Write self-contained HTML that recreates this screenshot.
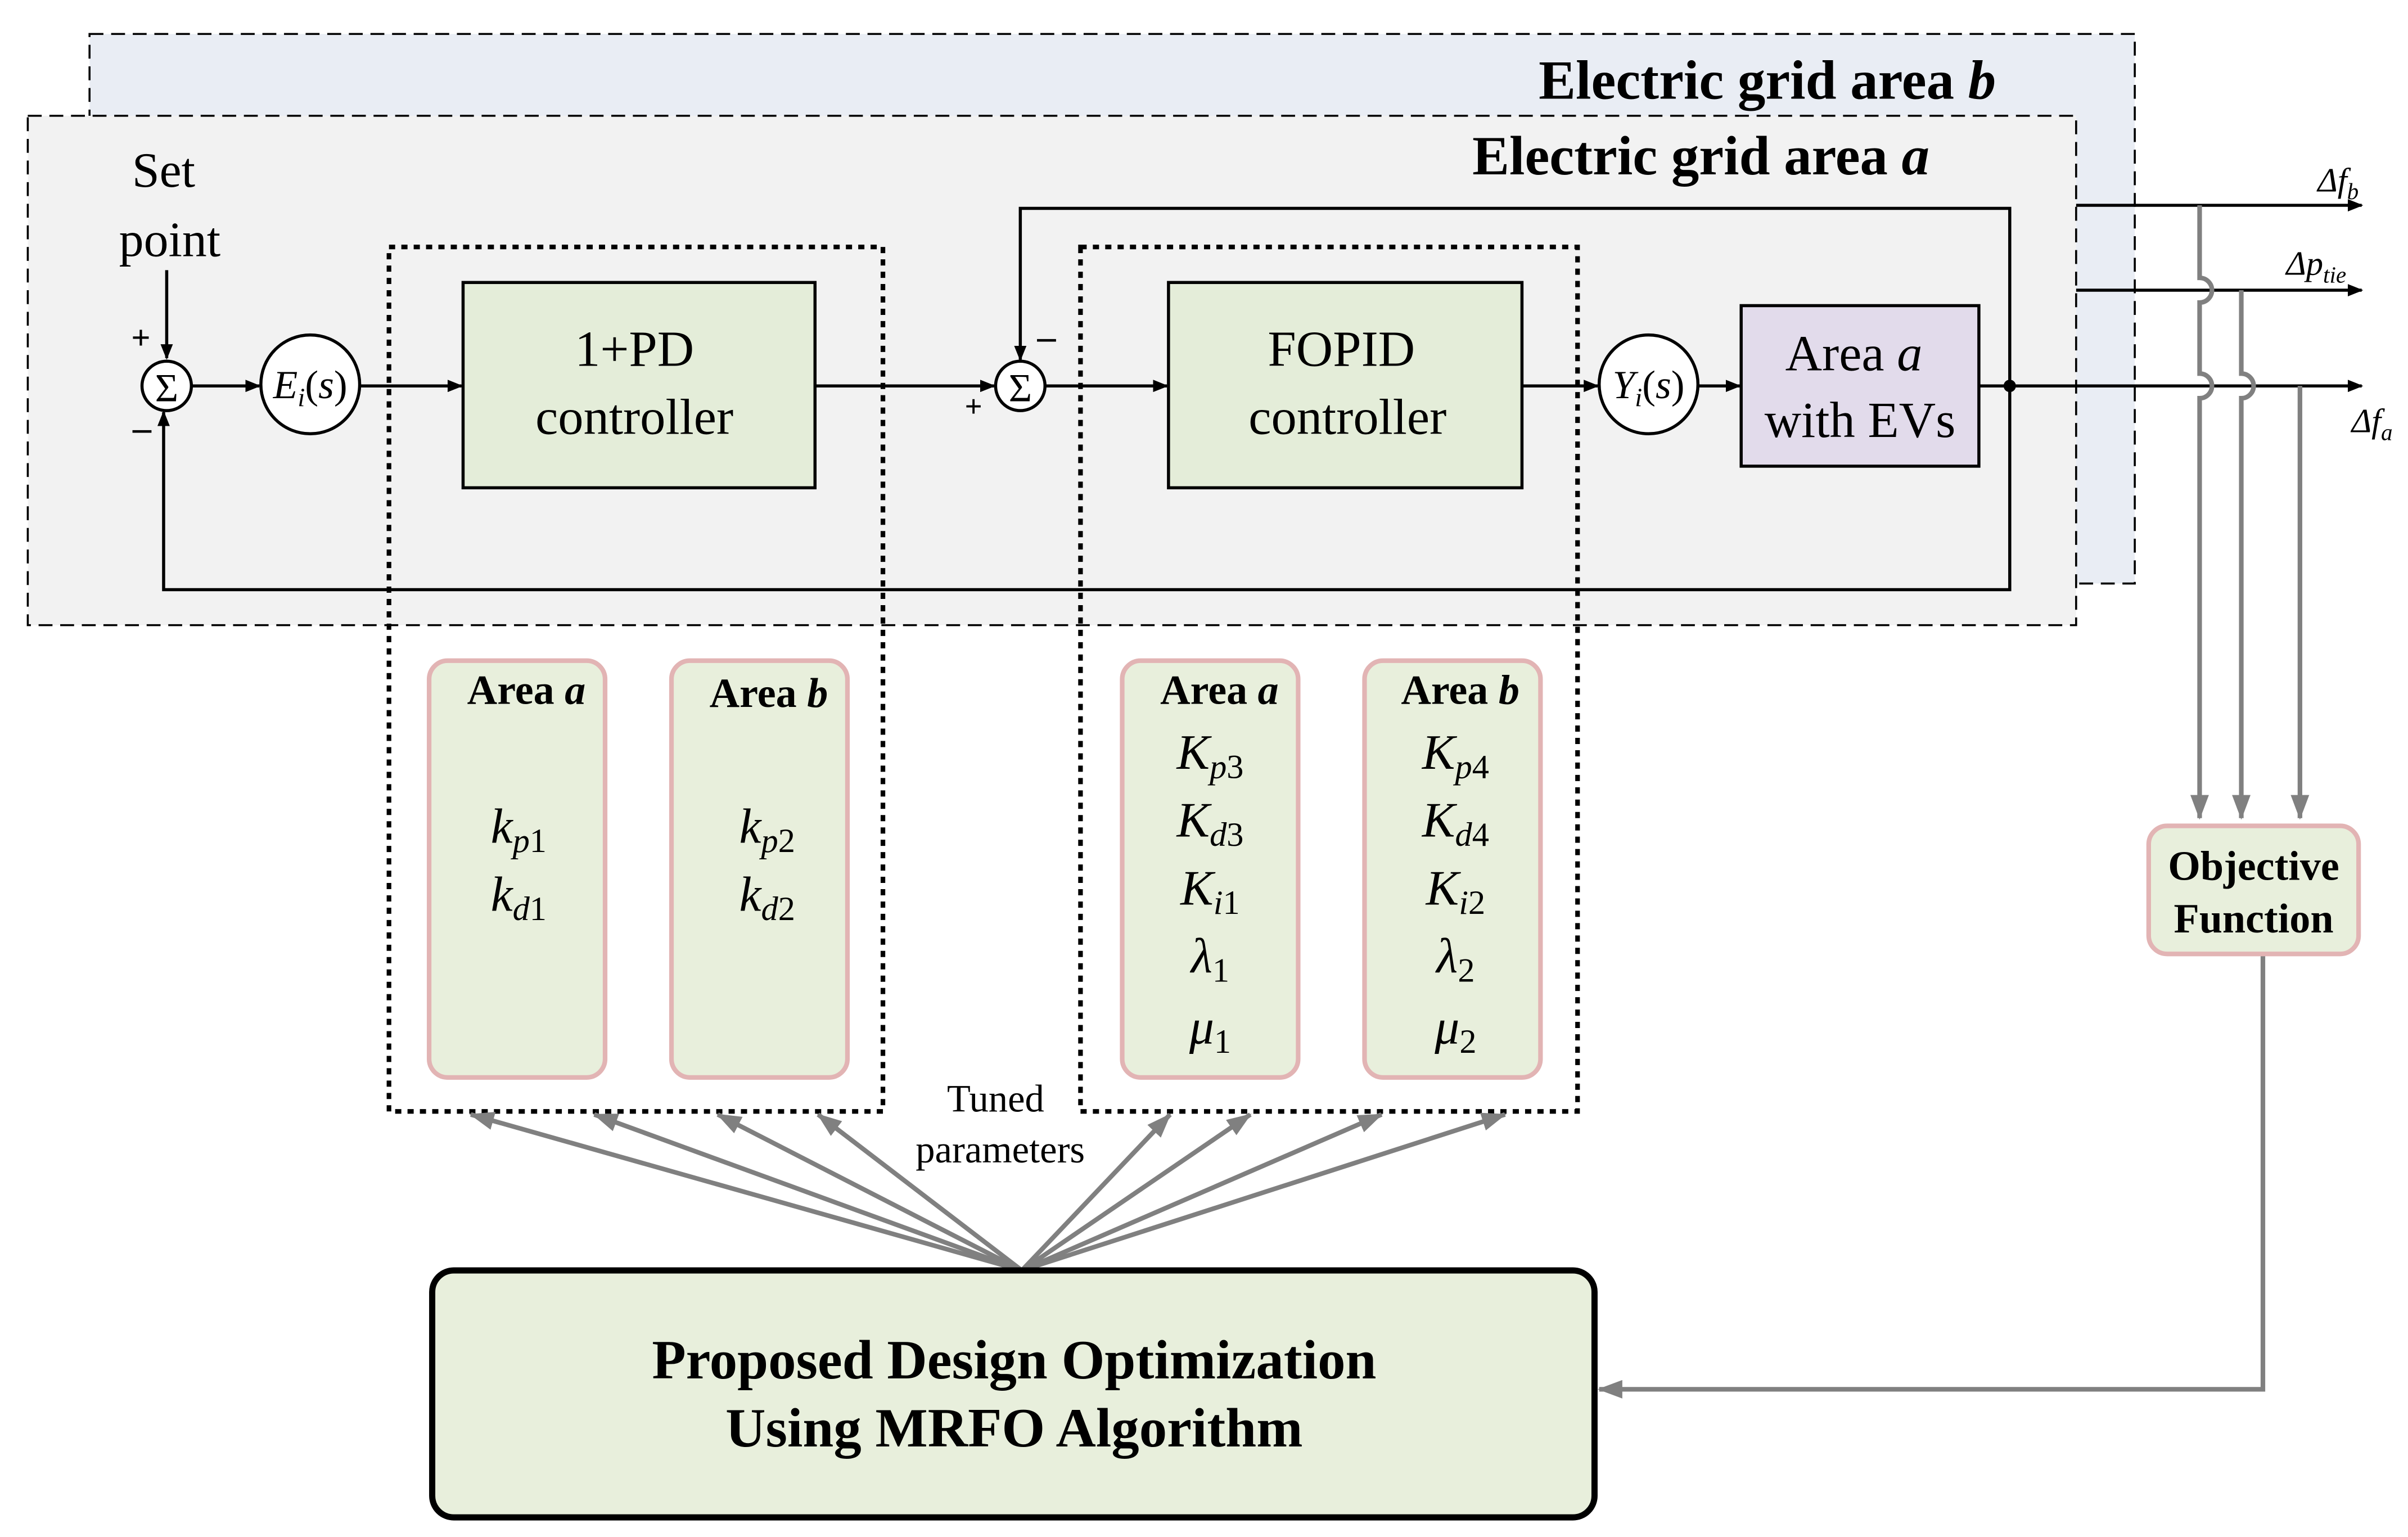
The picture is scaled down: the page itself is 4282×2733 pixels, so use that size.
<!DOCTYPE html>
<html><head><meta charset="utf-8"><style>html,body{margin:0;padding:0;background:#fff}svg{display:block}</style></head><body>
<svg width="4282" height="2733" viewBox="0 0 1560 995.7" preserveAspectRatio="none" xmlns="http://www.w3.org/2000/svg" font-family="Liberation Serif, serif">
<defs>
<marker id="ab" markerWidth="10" markerHeight="8" refX="9" refY="4" orient="auto" markerUnits="userSpaceOnUse"><path d="M0,0L10,4L0,8z" fill="#000"/></marker>
<marker id="ag" markerWidth="16" markerHeight="12" refX="15" refY="6" orient="auto" markerUnits="userSpaceOnUse"><path d="M0,0L16,6L0,12z" fill="#808080"/></marker>
</defs>
<rect x="58" y="22" width="1325" height="356" fill="#e9edf4" stroke="#000" stroke-width="1.3" stroke-dasharray="9,5"/>
<rect x="18" y="75" width="1327" height="330" fill="#f2f2f2" stroke="#000" stroke-width="1.3" stroke-dasharray="9,5"/>
<text x="1293" y="64" text-anchor="end" font-size="36" font-weight="bold">Electric grid area <tspan font-style="italic">b</tspan></text>
<text x="1250" y="113" text-anchor="end" font-size="36" font-weight="bold">Electric grid area <tspan font-style="italic">a</tspan></text>
<text x="106" y="121" text-anchor="middle" font-size="32">Set</text>
<text x="110" y="166" text-anchor="middle" font-size="32">point</text>
<g stroke="#000" stroke-width="2" fill="none">
<rect x="252" y="160" width="320" height="560" stroke-width="3" stroke-dasharray="4,4"/>
<rect x="700" y="160" width="322" height="560" stroke-width="3" stroke-dasharray="4,4"/>
<line x1="108" y1="175" x2="108" y2="232" marker-end="url(#ab)"/>
<line x1="124" y1="250" x2="168" y2="250" marker-end="url(#ab)"/>
<line x1="233" y1="250" x2="299" y2="250" marker-end="url(#ab)"/>
<line x1="528" y1="250" x2="644" y2="250" marker-end="url(#ab)"/>
<line x1="677" y1="250" x2="756" y2="250" marker-end="url(#ab)"/>
<line x1="986" y1="250" x2="1035" y2="250" marker-end="url(#ab)"/>
<line x1="1100" y1="250" x2="1127" y2="250" marker-end="url(#ab)"/>
<line x1="1282" y1="250" x2="1530" y2="250" marker-end="url(#ab)"/>
<polyline points="1302,250 1302,135 661,135 661,233" marker-end="url(#ab)"/>
<polyline points="1302,250 1302,382 106,382 106,267" marker-end="url(#ab)"/>
<line x1="1345" y1="133" x2="1530" y2="133" marker-end="url(#ab)"/>
<line x1="1345" y1="188" x2="1530" y2="188" marker-end="url(#ab)"/>
</g>
<circle cx="1302" cy="250" r="4" fill="#000"/>
<circle cx="108" cy="250" r="16" fill="#fff" stroke="#000" stroke-width="2"/>
<text x="108" y="260" text-anchor="middle" font-size="26">Σ</text>
<circle cx="661" cy="250" r="16" fill="#fff" stroke="#000" stroke-width="2"/>
<text x="661" y="260" text-anchor="middle" font-size="26">Σ</text>
<text x="85" y="226" font-size="22" font-weight="bold">+</text>
<text x="86" y="285" font-size="24" font-weight="bold">–</text>
<text x="625" y="270" font-size="20" font-weight="bold">+</text>
<text x="672" y="226" font-size="24" font-weight="bold">–</text>
<circle cx="201" cy="249" r="32" fill="#fff" stroke="#000" stroke-width="2"/>
<text x="201" y="258" text-anchor="middle" font-size="26" font-style="italic">E<tspan font-size="17" dy="5">i</tspan><tspan dy="-5" font-style="normal">(</tspan>s<tspan font-style="normal">)</tspan></text>
<circle cx="1068" cy="249" r="32" fill="#fff" stroke="#000" stroke-width="2"/>
<text x="1068" y="258" text-anchor="middle" font-size="26" font-style="italic">Y<tspan font-size="17" dy="5">i</tspan><tspan dy="-5" font-style="normal">(</tspan>s<tspan font-style="normal">)</tspan></text>
<rect x="300" y="183" width="228" height="133" fill="#e4edd9" stroke="#000" stroke-width="2"/>
<text x="411" y="237" text-anchor="middle" font-size="33">1+PD</text>
<text x="411" y="281" text-anchor="middle" font-size="33">controller</text>
<rect x="757" y="183" width="229" height="133" fill="#e4edd9" stroke="#000" stroke-width="2"/>
<text x="869" y="237" text-anchor="middle" font-size="33">FOPID</text>
<text x="873" y="281" text-anchor="middle" font-size="33">controller</text>
<rect x="1128" y="198" width="154" height="104" fill="#e2dbeb" stroke="#000" stroke-width="2"/>
<text x="1201" y="240" text-anchor="middle" font-size="33">Area <tspan font-style="italic">a</tspan></text>
<text x="1205" y="283" text-anchor="middle" font-size="33">with EVs</text>
<text x="1528" y="124" text-anchor="end" font-size="22" font-style="italic">Δf<tspan font-size="15" dy="5">b</tspan></text>
<text x="1520" y="178" text-anchor="end" font-size="22" font-style="italic">Δp<tspan font-size="15" dy="5">tie</tspan></text>
<text x="1550" y="280" text-anchor="end" font-size="22" font-style="italic">Δf<tspan font-size="15" dy="5">a</tspan></text>
<g stroke="#808080" stroke-width="3" fill="none">
<path d="M1425,133 V180 a8,8 0 0 1 0,16 V242 a8,8 0 0 1 0,16 V530" marker-end="url(#ag)"/>
<path d="M1452,188 V242 a8,8 0 0 1 0,16 V530" marker-end="url(#ag)"/>
<path d="M1490,250 V530" marker-end="url(#ag)"/>
<polyline points="1466,618 1466,900 1036,900" marker-end="url(#ag)"/>
<line x1="662" y1="823" x2="305" y2="722" marker-end="url(#ag)"/>
<line x1="662" y1="823" x2="385" y2="722" marker-end="url(#ag)"/>
<line x1="662" y1="823" x2="465" y2="722" marker-end="url(#ag)"/>
<line x1="662" y1="823" x2="530" y2="722" marker-end="url(#ag)"/>
<line x1="662" y1="823" x2="758" y2="722" marker-end="url(#ag)"/>
<line x1="662" y1="823" x2="810" y2="722" marker-end="url(#ag)"/>
<line x1="662" y1="823" x2="895" y2="722" marker-end="url(#ag)"/>
<line x1="662" y1="823" x2="975" y2="722" marker-end="url(#ag)"/>
</g>
<rect x="1392" y="535" width="136" height="83" rx="12" fill="#e8efdc" stroke="#e2b4b4" stroke-width="3"/>
<text x="1460" y="570" text-anchor="middle" font-size="27" font-weight="bold">Objective</text>
<text x="1460" y="604" text-anchor="middle" font-size="27" font-weight="bold">Function</text>
<g fill="#e8efdc" stroke="#e2b4b4" stroke-width="3">
<rect x="278" y="428" width="114" height="270" rx="12"/>
<rect x="435" y="428" width="114" height="270" rx="12"/>
<rect x="727" y="428" width="114" height="270" rx="12"/>
<rect x="884" y="428" width="114" height="270" rx="12"/>
</g>
<g font-size="27" font-weight="bold" text-anchor="middle">
<text x="341" y="456">Area <tspan font-style="italic">a</tspan></text>
<text x="498" y="458">Area <tspan font-style="italic">b</tspan></text>
<text x="790" y="456">Area <tspan font-style="italic">a</tspan></text>
<text x="946" y="456">Area <tspan font-style="italic">b</tspan></text>
</g>
<g font-size="32" font-style="italic" text-anchor="middle">
<text x="336" y="546">k<tspan font-size="22" dy="6">p</tspan><tspan font-size="22" font-style="normal">1</tspan></text>
<text x="336" y="590">k<tspan font-size="22" dy="6">d</tspan><tspan font-size="22" font-style="normal">1</tspan></text>
<text x="497" y="546">k<tspan font-size="22" dy="6">p</tspan><tspan font-size="22" font-style="normal">2</tspan></text>
<text x="497" y="590">k<tspan font-size="22" dy="6">d</tspan><tspan font-size="22" font-style="normal">2</tspan></text>
<text x="784" y="498">K<tspan font-size="22" dy="6">p</tspan><tspan font-size="22" font-style="normal">3</tspan></text>
<text x="784" y="542">K<tspan font-size="22" dy="6">d</tspan><tspan font-size="22" font-style="normal">3</tspan></text>
<text x="784" y="586">K<tspan font-size="22" dy="6">i</tspan><tspan font-size="22" font-style="normal">1</tspan></text>
<text x="784" y="630">λ<tspan font-size="22" dy="6" font-style="normal">1</tspan></text>
<text x="784" y="676">μ<tspan font-size="22" dy="6" font-style="normal">1</tspan></text>
<text x="943" y="498">K<tspan font-size="22" dy="6">p</tspan><tspan font-size="22" font-style="normal">4</tspan></text>
<text x="943" y="542">K<tspan font-size="22" dy="6">d</tspan><tspan font-size="22" font-style="normal">4</tspan></text>
<text x="943" y="586">K<tspan font-size="22" dy="6">i</tspan><tspan font-size="22" font-style="normal">2</tspan></text>
<text x="943" y="630">λ<tspan font-size="22" dy="6" font-style="normal">2</tspan></text>
<text x="943" y="676">μ<tspan font-size="22" dy="6" font-style="normal">2</tspan></text>
</g>
<text x="645" y="720" text-anchor="middle" font-size="25">Tuned</text>
<text x="648" y="753" text-anchor="middle" font-size="25">parameters</text>
<rect x="280" y="823" width="753" height="160" rx="14" fill="#e8efdc" stroke="#000" stroke-width="4"/>
<text x="657" y="893" text-anchor="middle" font-size="36" font-weight="bold">Proposed Design Optimization</text>
<text x="657" y="937" text-anchor="middle" font-size="36" font-weight="bold">Using MRFO Algorithm</text>
</svg>
</body></html>
